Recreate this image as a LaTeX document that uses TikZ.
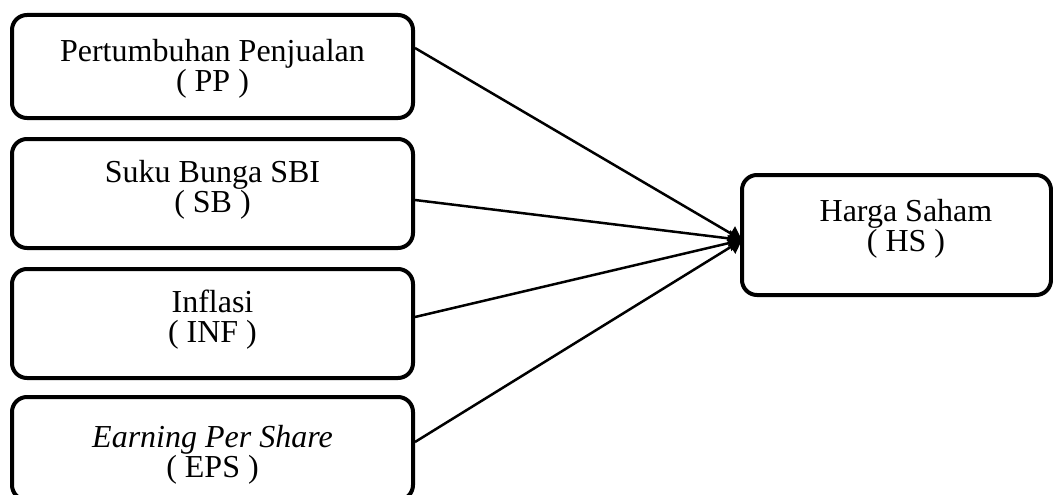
\documentclass[tikz,border=0pt]{standalone}
\usepackage{fontspec}
\setmainfont{Liberation Serif}
\usetikzlibrary{arrows.meta,calc}
\begin{document}
\begin{tikzpicture}[x=1pt,y=-1pt,
  box/.style={draw, line width=4pt, rounded corners=15pt, inner sep=0pt},
  lbl/.style={align=center, font=\fontsize{32}{30}\selectfont, inner sep=0pt},
  link/.style={line width=2.5pt, -{Triangle[length=13pt,width=16pt]}}]
\useasboundingbox (0,0) rectangle (1053,495);
\clip (0,0) rectangle (1053,495);
\node[box, minimum width=401pt, minimum height=103pt] (pp) at (212.5,66.5) {};
\node[box, minimum width=401pt, minimum height=109pt] (sb) at (212.5,193.5) {};
\node[box, minimum width=401pt, minimum height=109pt] (inf) at (212.5,323.5) {};
\node[box, minimum width=401pt, minimum height=103pt] (eps) at (212.5,448.5) {};
\node[box, minimum width=309pt, minimum height=120pt] (hs) at (896.5,235) {};
\node[lbl] (ppt) at (212.5,69) {Pertumbuhan Penjualan\\( PP )};
\node[lbl] (sbt) at (212.5,190) {Suku Bunga SBI\\( SB )};
\node[lbl] (inft) at (212.5,320) {Inflasi\\( INF )};
\node[lbl] (epst) at (212.5,455) {\textit{Earning Per Share}\\( EPS )};
\node[lbl] (hst) at (906,229) {Harga Saham\\( HS )};
\coordinate (tip) at (742,240);
\draw[link] ($(pp.east)+(0,-18.5)$) -- (tip);
\draw[link] ($(sb.east)+(0,6.5)$) -- (tip);
\draw[link] ($(inf.east)+(0,-6.5)$) -- (tip);
\draw[link] ($(eps.east)+(0,-6.5)$) -- (tip);
\end{tikzpicture}
\end{document}
